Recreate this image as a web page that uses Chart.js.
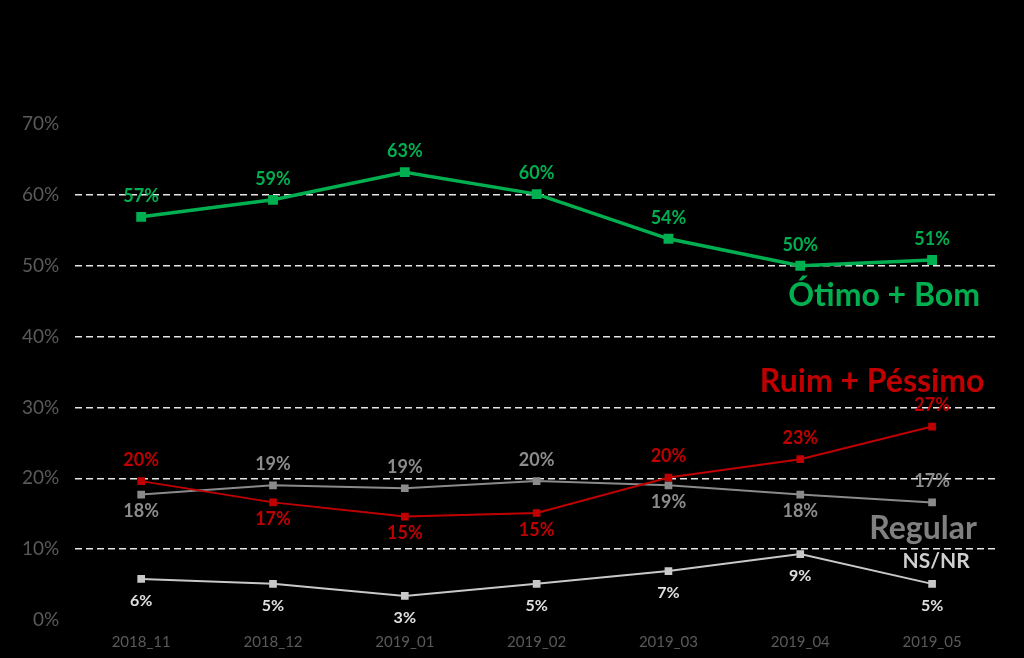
<!DOCTYPE html>
<html>
<head>
<meta charset="utf-8">
<script src="https://cdn.jsdelivr.net/npm/chart.js@4"></script>
<style>
  html, body { margin: 0; padding: 0; background: #000; }
  #wrap { width: 1024px; height: 658px; }
</style>
</head>
<body>
<div id="wrap"><canvas id="grafico"></canvas></div>
<script>
const meses = ['2018_11', '2018_12', '2019_01', '2019_02', '2019_03', '2019_04', '2019_05'];
const yTicks = [0, 10, 20, 30, 40, 50, 60, 70];

// valores (posição) e rótulos publicados
const otimoBom = [56.9, 59.3, 63.2, 60.1, 53.8, 50.0, 50.8];
const otimoBomLbl = ['57%', '59%', '63%', '60%', '54%', '50%', '51%'];
const ruimPessimo = [19.6, 16.6, 14.6, 15.1, 20.1, 22.7, 27.3];
const ruimPessimoLbl = ['20%', '17%', '15%', '15%', '20%', '23%', '27%'];
const regular = [17.7, 19.0, 18.6, 19.6, 19.0, 17.7, 16.6];
const regularLbl = ['18%', '19%', '19%', '20%', '19%', '18%', '17%'];
const nsnr = [5.8, 5.1, 3.4, 5.1, 6.9, 9.3, 5.1];
const nsnrLbl = ['6%', '5%', '3%', '5%', '7%', '9%', '5%'];

const FONTE = 'Lato, "Open Sans", sans-serif';

// acima (-1) ou abaixo (+1) do ponto
const lados = [
  [-1, -1, -1, -1, -1, -1, -1],
  [-1, 1, 1, 1, -1, -1, -1],
  [1, -1, -1, -1, 1, 1, -1],
  [1, 1, 1, 1, 1, 1, 1],
];
const rotulos = [otimoBomLbl, ruimPessimoLbl, regularLbl, nsnrLbl];
const coresRotulo = ['#00B050', '#C00000', '#8c8c8c', '#e0e0e0'];

const rotulosPlugin = {
  id: 'rotulos',
  afterDatasetsDraw(chart) {
    const ctx = chart.ctx;
    const x = chart.scales.x, y = chart.scales.y;
    ctx.save();
    ctx.textAlign = 'center';
    ctx.textBaseline = 'middle';
    chart.data.datasets.forEach((ds, i) => {
      const meta = chart.getDatasetMeta(i);
      ctx.fillStyle = coresRotulo[i];
      ctx.font = 'bold ' + (i == 3 ? 16 : 18) + 'px ' + FONTE;
      meta.data.forEach((p, j) => {
        const d = lados[i][j] < 0 ? 21 : (i == 3 ? 22 : 17);
        ctx.fillText(rotulos[i][j], p.x, p.y + lados[i][j] * d);
      });
    });
    // nomes das séries
    const xu = x.getPixelForValue(meses.length - 1);
    ctx.font = 'bold 32px ' + FONTE;
    ctx.fillStyle = '#00B050';
    ctx.fillText('Ótimo + Bom', xu - 48, y.getPixelForValue(45.7));
    ctx.fillStyle = '#C00000';
    ctx.fillText('Ruim + Péssimo', xu - 60, y.getPixelForValue(33.7));
    ctx.fillStyle = '#808080';
    ctx.fillText('Regular', xu - 9, y.getPixelForValue(12.9));
    ctx.font = 'bold 21px ' + FONTE;
    ctx.fillStyle = '#d0d0d0';
    ctx.fillText('NS/NR', xu + 4, y.getPixelForValue(8.3));
    ctx.restore();
  },
};

function serie(label, data, cor, largura, raio) {
  return {
    label: label,
    data: data,
    borderColor: cor,
    backgroundColor: cor,
    borderWidth: largura,
    pointStyle: 'rect',
    pointRadius: raio,
    pointHoverRadius: raio,
    tension: 0,
  };
}

new Chart(document.getElementById('grafico'), {
  type: 'line',
  data: {
    labels: meses,
    datasets: [
      serie('Ótimo + Bom', otimoBom, '#00B050', 3.5, 4.5),
      serie('Ruim + Péssimo', ruimPessimo, '#C00000', 2, 4),
      serie('Regular', regular, '#8a8a8a', 2, 4),
      serie('NS/NR', nsnr, '#c8c8c8', 2, 4),
    ],
  },
  options: {
    responsive: true,
    maintainAspectRatio: false,
    animation: false,
    layout: { padding: { top: 124, right: 26, left: 6, bottom: 2 } },
    plugins: { legend: { display: false }, tooltip: { enabled: false } },
    scales: {
      x: {
        offset: true,
        grid: { display: false },
        border: { display: false },
        ticks: { color: '#5a5a5a', font: { family: FONTE, size: 15 }, padding: 5 },
      },
      y: {
        min: 0,
        max: 70,
        afterBuildTicks: (s) => { s.ticks = yTicks.map((v) => ({ value: v })); },
        border: { display: false, dash: [7, 4] },
        grid: {
          color: (c) => (c.tick && (c.tick.value == 0 || c.tick.value == 70) ? 'rgba(0,0,0,0)' : '#e6e6e6'),
          lineWidth: 1.5,
          drawTicks: false,
        },
        ticks: {
          color: '#5a5a5a',
          font: { family: FONTE, size: 19 },
          padding: 16,
          callback: (v) => v + '%',
        },
      },
    },
  },
  plugins: [rotulosPlugin],
});
</script>
</body>
</html>
